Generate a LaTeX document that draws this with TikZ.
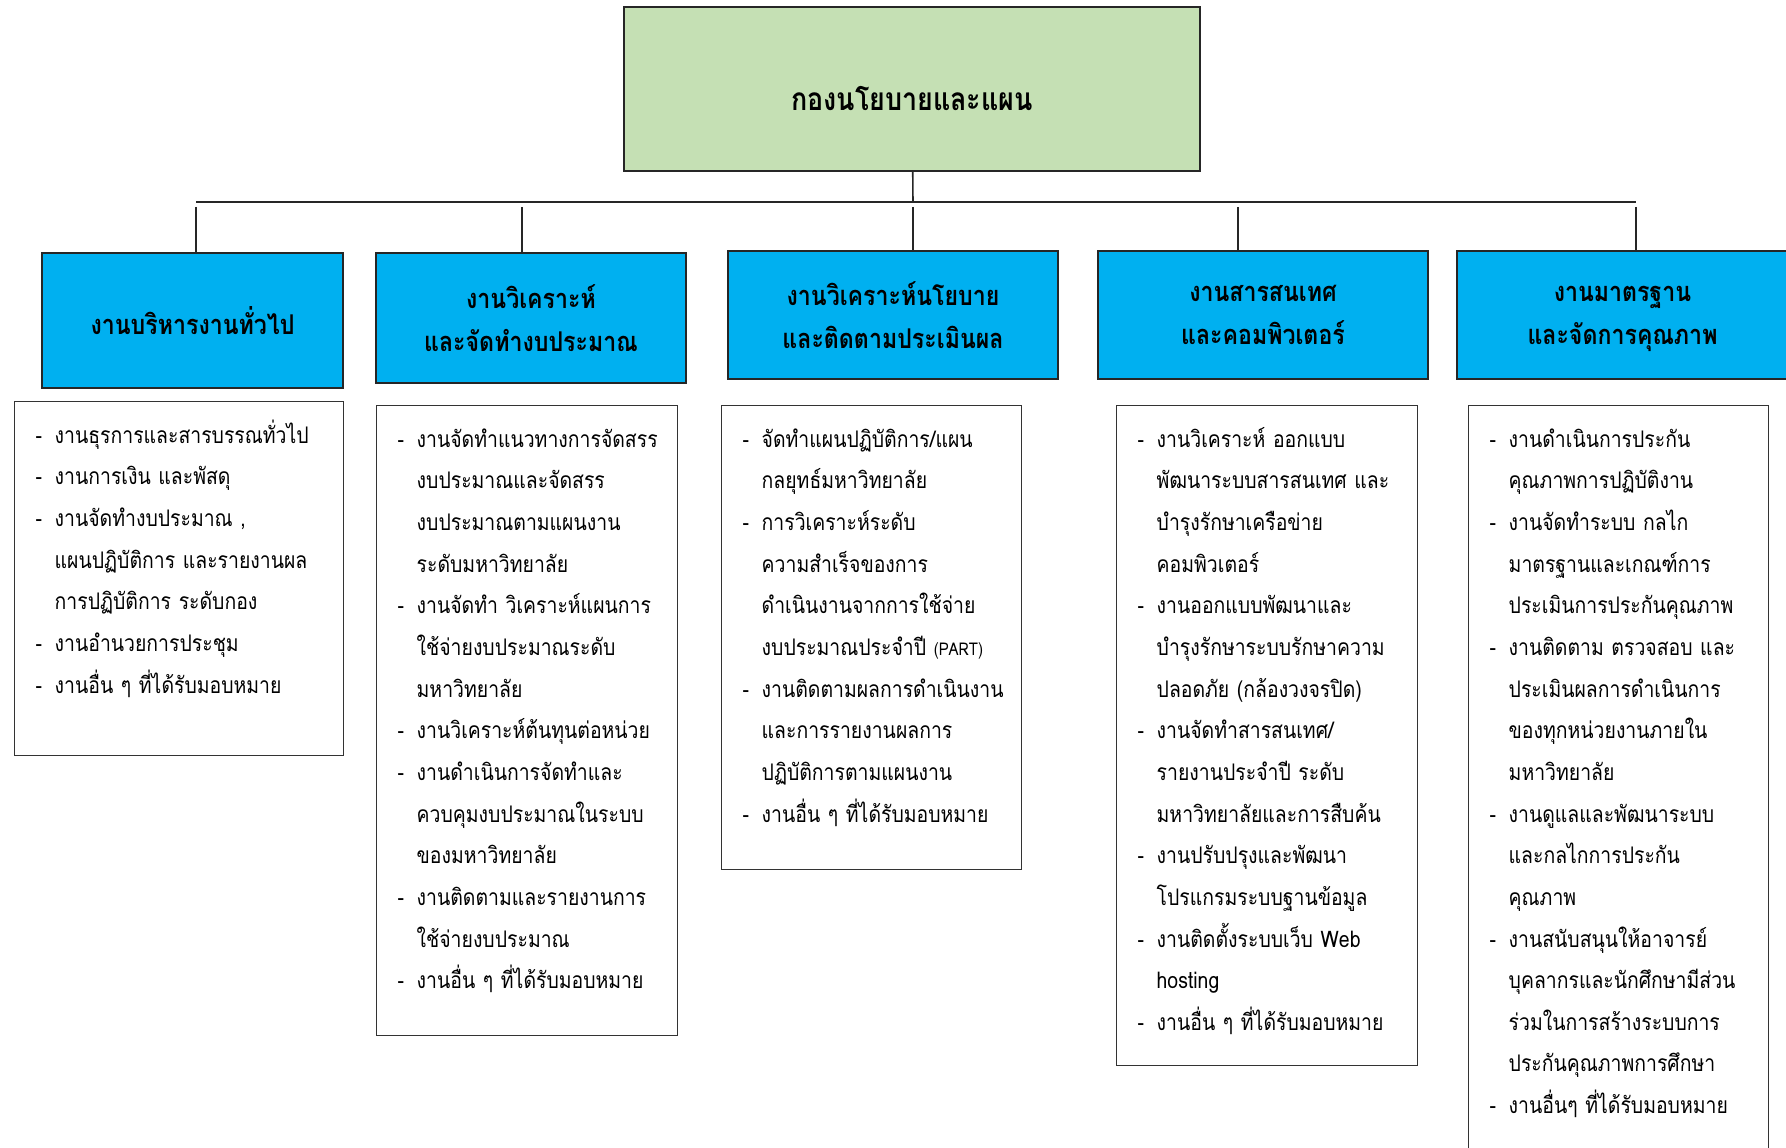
\documentclass[tikz,border=0pt]{standalone}
\usepackage{fontspec}
\setmainfont[Script=Thai,FakeStretch=0.85]{Loma}
\usepackage{tikz}

\definecolor{planGreen}{HTML}{C5E0B4}
\definecolor{unitBlue}{HTML}{00B0F0}

% one task line: dash, then hanging text
\newcommand{\job}[1]{\par\hangindent=0.38cm\hangafter=1\noindent\hbox to 0.38cm{-\hfil}{\let\\\newline#1}\par}
\newcommand{\joblist}[2]{\hbox to \hsize{\vbox to #1{\hsize=12cm\hbox{}#2\vfil}\hss}}

\begin{document}
\begin{tikzpicture}[x=0.02cm,y=-0.02cm,
  headbox/.style={draw=black!85,line width=1.1pt,fill=planGreen,font=\fontsize{18}{22}\selectfont\bfseries},
  unitbox/.style={draw=black!85,line width=1.1pt,fill=unitBlue,align=center,font=\fontsize{15.5}{24.5}\selectfont\bfseries},
  orgline/.style={draw=black!85,line width=0.9pt}]
  \tikzstyle{jobbox}=[draw=black!80,line width=0.8pt,anchor=north west,align=left,inner xsep=0.42cm,inner ysep=0pt,font=\fontsize{13}{23.7}\selectfont]
  \useasboundingbox (0,0) rectangle (1786,1148);

  \node[headbox,minimum width=11.52cm,minimum height=3.28cm,text height=0.88cm,text depth=0pt] (head) at (912,89) {กองนโยบายและแผน};

  \node[unitbox,minimum width=6.02cm,minimum height=2.70cm] (h1) at (192.5,320.5) {งานบริหารงานทั่วไป};
  \node[unitbox,minimum width=6.20cm,minimum height=2.60cm] (h2) at (531,318) {งานวิเคราะห์\\และจัดทำงบประมาณ};
  \node[unitbox,minimum width=6.60cm,minimum height=2.56cm] (h3) at (893,315) {งานวิเคราะห์นโยบาย\\และติดตามประเมินผล};
  \node[unitbox,minimum width=6.60cm,minimum height=2.56cm] (h4) at (1263,315) {งานสารสนเทศ\\และคอมพิวเตอร์};
  \node[unitbox,minimum width=6.62cm,minimum height=2.56cm] (h5) at (1622.5,315) {งานมาตรฐาน\\และจัดการ\smash{คุณภาพ}};

  \node[jobbox,text width=5.74cm] (l1) at (14,401) {\joblist{7.08cm}{%
    \job{งานธุรการและสารบรรณทั่วไป}
    \job{งานการเงิน และพัสดุ}
    \job{งานจัดทำงบประมาณ ,\\แผนปฏิบัติการ และรายงานผล\\การปฏิบัติการ ระดับกอง}
    \job{งานอำนวยการประชุม}
    \job{งานอื่น ๆ ที่ได้รับมอบหมาย}}};
  \node[jobbox,text width=5.18cm] (l2) at (376,405) {\joblist{12.60cm}{%
    \job{งานจัดทำแนวทางการจัดสรร\\งบประมาณและจัดสรร\\งบประมาณตามแผนงาน\\ระดับมหาวิทยาลัย}
    \job{งานจัดทำ วิเคราะห์แผนการ\\ใช้จ่ายงบประมาณระดับ\\มหาวิทยาลัย}
    \job{งานวิเคราะห์ต้นทุนต่อหน่วย}
    \job{งานดำเนินการจัดทำและ\\ควบคุมงบประมาณในระบบ\\ของมหาวิทยาลัย}
    \job{งานติดตามและรายงานการ\\ใช้จ่ายงบประมาณ}
    \job{งานอื่น ๆ ที่ได้รับมอบหมาย}}};
  \node[jobbox,text width=5.16cm] (l3) at (721,405) {\joblist{9.28cm}{%
    \job{จัดทำแผนปฏิบัติการ/แผน\\กลยุทธ์มหาวิทยาลัย}
    \job{การวิเคราะห์ระดับ\\ความสำเร็จของการ\\ดำเนินงานจากการใช้จ่าย\\งบประมาณประจำปี {\fontsize{10}{10}\selectfont(PART)}}
    \job{งานติดตามผลการดำเนินงาน\\และการรายงานผลการ\\ปฏิบัติการตามแผนงาน}
    \job{งานอื่น ๆ ที่ได้รับมอบหมาย}}};
  \node[jobbox,text width=5.18cm] (l4) at (1116,405) {\joblist{13.20cm}{%
    \job{งานวิเคราะห์ ออกแบบ\\พัฒนาระบบสารสนเทศ และ\\บำรุงรักษาเครือข่าย\\คอมพิวเตอร์}
    \job{งานออกแบบพัฒนาและ\\บำรุงรักษาระบบรักษาความ\\ปลอดภัย (กล้องวงจรปิด)}
    \job{งานจัดทำสารสนเทศ/\\รายงานประจำปี ระดับ\\มหาวิทยาลัยและการสืบค้น}
    \job{งานปรับปรุงและพัฒนา\\โปรแกรมระบบฐานข้อมูล}
    \job{งานติดตั้งระบบเว็บ Web\\hosting}
    \job{งานอื่น ๆ ที่ได้รับมอบหมาย}}};
  \node[jobbox,text width=5.16cm] (l5) at (1468,405) {\joblist{15.20cm}{%
    \job{งานดำเนินการประกัน\\คุณภาพการปฏิบัติงาน}
    \job{งานจัดทำระบบ กลไก\\มาตรฐานและเกณฑ์การ\\ประเมินการประกันคุณภาพ}
    \job{งานติดตาม ตรวจสอบ และ\\ประเมินผลการดำเนินการ\\ของทุกหน่วยงานภายใน\\มหาวิทยาลัย}
    \job{งานดูแลและพัฒนาระบบ\\และกลไกการประกัน\\คุณภาพ}
    \job{งานสนับสนุนให้อาจารย์\\บุคลากรและนักศึกษามีส่วน\\ร่วมในการสร้างระบบการ\\ประกันคุณภาพการศึกษา}
    \job{งานอื่นๆ ที่ได้รับมอบหมาย}}};

  % tree lines
  \coordinate (bar) at (913,202);
  \coordinate (barL) at (196,202);
  \coordinate (barR) at (1636,202);
  \draw[orgline] (head) -- (bar);
  \draw[orgline] (barL) -- (barR);
  \foreach \n/\x in {1/196,2/522,3/913,4/1238,5/1636} {
    \coordinate (d\n) at (\x,207);
    \draw[orgline] (d\n) -- (d\n |- h\n.north);
  }
\end{tikzpicture}
\end{document}
